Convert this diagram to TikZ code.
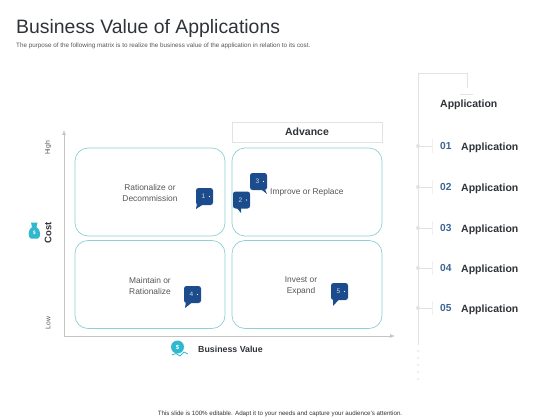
\documentclass[tikz,border=0pt]{standalone}
\usepackage{fontspec}
\setmainfont{Liberation Sans}
\usetikzlibrary{positioning}
\definecolor{teal}{HTML}{8FD0D6}
\definecolor{navy}{HTML}{1C4C8C}
\definecolor{ink}{HTML}{2F3338}
\definecolor{soft}{HTML}{555555}
\definecolor{rail}{HTML}{E2E2E2}
\definecolor{aqua}{HTML}{2FB8D0}
\definecolor{axisgrey}{HTML}{C4C4C4}
\definecolor{numblue}{HTML}{3D6594}

\begin{document}
\begin{tikzpicture}[x=1pt,y=-1pt,
cell/.style={draw=teal,rounded corners=13pt,minimum width=150pt,minimum height=88pt,inner sep=0pt,line width=.7pt},
lbl/.style={font=\fontsize{8.4}{11}\selectfont,text=soft,align=center,inner sep=0pt},
head/.style={font=\fontsize{10.5}{12}\selectfont\bfseries,text=ink,inner sep=0pt},
bub/.style={fill=navy,rounded corners=2.5pt,minimum width=17pt,minimum height=17pt,inner sep=0pt,text=white!80!navy,font=\fontsize{6.5}{7}\selectfont},
num/.style={font=\fontsize{10.2}{12}\selectfont\bfseries,text=numblue,inner sep=0pt},
axis/.style={-latex,draw=axisgrey,line width=.7pt},
railline/.style={draw=rail,line width=.7pt},
dotmark/.style={circle,fill=rail,inner sep=0pt,minimum size=4pt}]
\useasboundingbox (0,0) rectangle (560,420);
% heading
\node[font=\fontsize{19.4}{22}\selectfont,text=ink,anchor=west,inner sep=0pt] (title) at (16,28.5) {Business Value of Applications};
\node[font=\fontsize{6.3}{7}\selectfont,text=soft,anchor=west,inner sep=0pt] (sub) at (16,46) {The purpose of the following  matrix  is to realize  the business  value of the application  in relation  to its  cost.};
\node[font=\fontsize{6.2}{8}\selectfont,text=ink,inner sep=0pt] (foot) at (280,413.5) {This slide is 100\% editable. Adapt it to your needs and capture your audience's attention.};
% matrix
\node[cell] (tl) at (150,192) {};
\node[cell] (tr) at (307,192) {};
\node[cell] (bl) at (150,284.5) {};
\node[cell] (br) at (307,284.5) {};
\node[draw=rail,minimum width=150pt,minimum height=20pt,inner sep=0pt,line width=.5pt,head] (adv) at (307,132) {Advance};
\node[lbl] at (150,192.5) {Rationalize or\\Decommission};
\node[lbl,anchor=west] at (270,192.5) {Improve or Replace};
\node[lbl] at (150,286) {Maintain or\\Rationalize};
\node[lbl] at (301,286) {Invest or\\Expand};
% axes
\coordinate (origin) at (64,336);
\coordinate (top) at (64,130);
\coordinate (end) at (395,336);
\draw[axis] (origin)--(top);
\draw[axis] (origin)--(end);
\node[lbl,rotate=90,font=\fontsize{6.8}{8}\selectfont] (high) at (48,148) {High};
\node[lbl,rotate=90,font=\fontsize{6.8}{8}\selectfont] (low) at (48,323) {Low};
\node[head,rotate=90,font=\fontsize{9.5}{11}\selectfont\bfseries] (cost) at (48,233) {Cost};
\node[head,font=\fontsize{8.8}{10}\selectfont\bfseries,anchor=west] (value) at (198,349) {Business Value};
% bag icon
\fill[aqua] (31,222.5)--(37.5,222.5)--(36.5,227) .. controls (41,229) and (41,238) .. (38,238.5)--(31,238.5) .. controls (27.5,238) and (28,229) .. (32,227)--cycle;
\node[font=\fontsize{5}{6}\selectfont\bfseries,text=white,inner sep=0pt] (bag) at (34.3,232.5) {\$};
% coin icon
\fill[aqua] (177.5,347) circle (6.5pt);
\node[font=\fontsize{6}{6}\selectfont\bfseries,text=white,inner sep=0pt] (coin) at (177.5,347) {\$};
\draw[aqua,line width=.8pt] (172,355) -- (176,353.5) -- (180,356) -- (184,352) -- (188,354);
% bubbles
\foreach \n/\x/\y/\tx/\ty/\ax/\bx in {1/204.5/196.5/196/209/197/203,2/241.5/200/241/213/236/241,3/258.5/181.5/267/194/260/265,4/192.5/294.5/185/308/186/192,5/339.5/291.5/333/306/333/339}{
\fill[navy] (\ax,\y+7) -- (\tx,\ty) -- (\bx,\y+8) -- cycle;
\node[bub] (b\n) at (\x,\y) {\hspace{-2pt}\n};
\fill[white] (b\n.center)+(5,0) circle (.7pt);
}
% right column
\coordinate (railtop) at (418,73);
\coordinate (railbend) at (467,73);
\coordinate (stem) at (467,88);
\coordinate (railend) at (418,345);
\draw[railline] (railend)--(railtop)--(railbend)--(stem);
\draw[railline] (460,94)--(473,94);
\node[head,anchor=west] (apphead) at (440,105) {Application};
\foreach \n/\y in {1/146,2/187,3/228,4/268,5/308}{
\node[dotmark] (d\n) at (418,\y) {};
\coordinate (t\n) at (432,\y);
\draw[railline] (d\n)--(t\n);
\draw[draw=rail!50,line width=.5pt] (432,\y-7)--(432,\y+7);
\node[num,anchor=west] (n\n) at (440,\y) {0\n};
\node[head,anchor=west] (a\n) at (461,\y+1.5) {Application};
}
\foreach \y in {351,358,365,372,379}{
\node[dotmark,minimum size=3pt,fill=rail!60] at (418,\y) {};
}
\end{tikzpicture}
\end{document}
